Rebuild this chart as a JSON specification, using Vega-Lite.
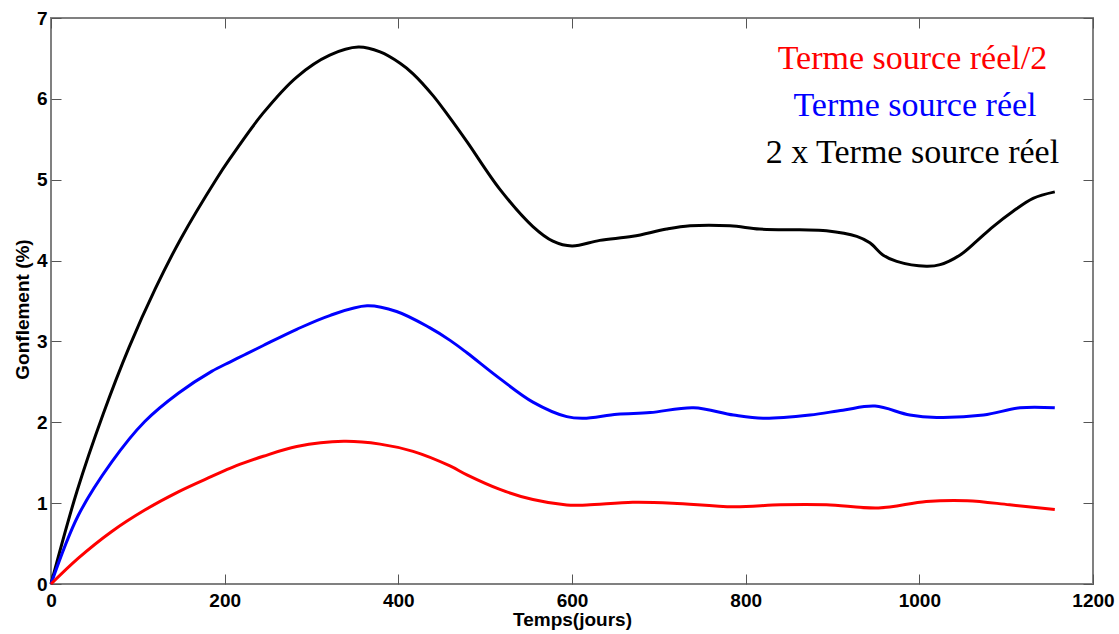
{
  "$schema": "https://vega.github.io/schema/vega-lite/v6.json",
  "width": 1042,
  "height": 566,
  "autosize": {"type": "none"},
  "padding": {"left": 51, "top": 18, "right": 26, "bottom": 50},
  "background": "white",
  "config": {
    "view": {"stroke": "#808080", "strokeWidth": 2},
    "axis": {
      "grid": false,
      "domain": false,
      "tickColor": "#555555",
      "tickWidth": 1,
      "tickSize": -10,
      "labelFont": "Liberation Sans",
      "labelFontWeight": "bold",
      "labelFontSize": 19,
      "labelColor": "black",
      "titleFont": "Liberation Sans",
      "titleFontWeight": "bold",
      "titleFontSize": 19,
      "titleColor": "black"
    }
  },
  "datasets": {
    "curves": [
      {"t": 0, "g": 0, "s": "k"}, {"t": 30, "g": 1.15, "s": "k"}, {"t": 60, "g": 2.1, "s": "k"}, {"t": 90, "g": 2.93, "s": "k"}, {"t": 120, "g": 3.65, "s": "k"}, {"t": 150, "g": 4.28, "s": "k"}, {"t": 190, "g": 5.0, "s": "k"}, {"t": 206, "g": 5.26, "s": "k"}, {"t": 244, "g": 5.82, "s": "k"}, {"t": 283, "g": 6.27, "s": "k"}, {"t": 321, "g": 6.54, "s": "k"}, {"t": 354, "g": 6.64, "s": "k"}, {"t": 379, "g": 6.58, "s": "k"}, {"t": 402, "g": 6.44, "s": "k"}, {"t": 417, "g": 6.31, "s": "k"}, {"t": 440, "g": 6.04, "s": "k"}, {"t": 459, "g": 5.77, "s": "k"}, {"t": 479, "g": 5.47, "s": "k"}, {"t": 517, "g": 4.88, "s": "k"}, {"t": 555, "g": 4.42, "s": "k"}, {"t": 578, "g": 4.24, "s": "k"}, {"t": 600, "g": 4.18, "s": "k"}, {"t": 632, "g": 4.25, "s": "k"}, {"t": 670, "g": 4.3, "s": "k"}, {"t": 709, "g": 4.39, "s": "k"}, {"t": 736, "g": 4.43, "s": "k"}, {"t": 782, "g": 4.43, "s": "k"}, {"t": 816, "g": 4.39, "s": "k"}, {"t": 862, "g": 4.38, "s": "k"}, {"t": 893, "g": 4.37, "s": "k"}, {"t": 928, "g": 4.3, "s": "k"}, {"t": 943, "g": 4.22, "s": "k"}, {"t": 958, "g": 4.07, "s": "k"}, {"t": 974, "g": 3.99, "s": "k"}, {"t": 1008, "g": 3.93, "s": "k"}, {"t": 1024, "g": 3.95, "s": "k"}, {"t": 1047, "g": 4.07, "s": "k"}, {"t": 1066, "g": 4.24, "s": "k"}, {"t": 1085, "g": 4.42, "s": "k"}, {"t": 1108, "g": 4.61, "s": "k"}, {"t": 1131, "g": 4.77, "s": "k"}, {"t": 1156, "g": 4.85, "s": "k"},
      {"t": 0, "g": 0, "s": "b"}, {"t": 31.5, "g": 0.85, "s": "b"}, {"t": 70, "g": 1.51, "s": "b"}, {"t": 108, "g": 2.01, "s": "b"}, {"t": 146.6, "g": 2.36, "s": "b"}, {"t": 185, "g": 2.63, "s": "b"}, {"t": 206, "g": 2.745, "s": "b"}, {"t": 223, "g": 2.835, "s": "b"}, {"t": 244.5, "g": 2.95, "s": "b"}, {"t": 283, "g": 3.15, "s": "b"}, {"t": 321, "g": 3.32, "s": "b"}, {"t": 364, "g": 3.44, "s": "b"}, {"t": 398, "g": 3.37, "s": "b"}, {"t": 436, "g": 3.17, "s": "b"}, {"t": 460, "g": 3.01, "s": "b"}, {"t": 479, "g": 2.86, "s": "b"}, {"t": 517, "g": 2.54, "s": "b"}, {"t": 555, "g": 2.25, "s": "b"}, {"t": 594, "g": 2.07, "s": "b"}, {"t": 613, "g": 2.05, "s": "b"}, {"t": 652, "g": 2.1, "s": "b"}, {"t": 690, "g": 2.12, "s": "b"}, {"t": 740, "g": 2.18, "s": "b"}, {"t": 786, "g": 2.09, "s": "b"}, {"t": 820, "g": 2.05, "s": "b"}, {"t": 874, "g": 2.09, "s": "b"}, {"t": 912, "g": 2.15, "s": "b"}, {"t": 949, "g": 2.2, "s": "b"}, {"t": 989, "g": 2.09, "s": "b"}, {"t": 1020, "g": 2.06, "s": "b"}, {"t": 1074, "g": 2.09, "s": "b"}, {"t": 1116, "g": 2.18, "s": "b"}, {"t": 1156, "g": 2.18, "s": "b"},
      {"t": 0, "g": 0, "s": "r"}, {"t": 31.5, "g": 0.32, "s": "r"}, {"t": 70, "g": 0.65, "s": "r"}, {"t": 108, "g": 0.915, "s": "r"}, {"t": 146.6, "g": 1.14, "s": "r"}, {"t": 185, "g": 1.33, "s": "r"}, {"t": 206, "g": 1.43, "s": "r"}, {"t": 223, "g": 1.5, "s": "r"}, {"t": 244.5, "g": 1.58, "s": "r"}, {"t": 283, "g": 1.7, "s": "r"}, {"t": 337, "g": 1.765, "s": "r"}, {"t": 379, "g": 1.73, "s": "r"}, {"t": 417, "g": 1.64, "s": "r"}, {"t": 459.5, "g": 1.46, "s": "r"}, {"t": 479, "g": 1.35, "s": "r"}, {"t": 517, "g": 1.17, "s": "r"}, {"t": 555, "g": 1.044, "s": "r"}, {"t": 594, "g": 0.977, "s": "r"}, {"t": 617, "g": 0.977, "s": "r"}, {"t": 670, "g": 1.01, "s": "r"}, {"t": 716, "g": 1.0, "s": "r"}, {"t": 786, "g": 0.954, "s": "r"}, {"t": 840, "g": 0.98, "s": "r"}, {"t": 893, "g": 0.98, "s": "r"}, {"t": 953, "g": 0.94, "s": "r"}, {"t": 1008, "g": 1.02, "s": "r"}, {"t": 1055, "g": 1.03, "s": "r"}, {"t": 1104, "g": 0.98, "s": "r"}, {"t": 1156, "g": 0.92, "s": "r"}
    ],
    "labels": [
      {"t": 992, "g": 6.373, "s": "r", "txt": "Terme source réel/2"},
      {"t": 995, "g": 5.788, "s": "b", "txt": "Terme source réel"},
      {"t": 992, "g": 5.211, "s": "k", "txt": "2 x Terme source réel"}
    ]
  },
  "layer": [
    {
      "data": {"name": "curves"},
      "mark": {"type": "line", "strokeWidth": 3, "interpolate": "catmull-rom"},
      "encoding": {
        "x": {"field": "t", "type": "quantitative", "scale": {"domain": [0, 1200], "nice": false},
              "axis": {"orient": "bottom", "values": [0, 200, 400, 600, 800, 1000, 1200], "format": "d", "labelPadding": 17, "title": "Temps(jours)", "titlePadding": 0, "labelFlush": false}},
        "y": {"field": "g", "type": "quantitative", "scale": {"domain": [0, 7], "nice": false},
              "axis": {"orient": "left", "values": [0, 1, 2, 3, 4, 5, 6, 7], "format": "d", "labelPadding": 14, "title": "Gonflement (%)", "titlePadding": 4, "titleY": 291}},
        "color": {"field": "s", "type": "nominal", "scale": {"domain": ["r", "b", "k"], "range": ["#ff0000", "#0000ff", "#000000"]}, "legend": null},
        "detail": {"field": "s"}
      }
    },
    {
      "data": {"name": "labels"},
      "mark": {"type": "text", "font": "Liberation Serif", "fontSize": 34, "align": "center", "baseline": "alphabetic"},
      "encoding": {
        "x": {"field": "t", "type": "quantitative", "axis": {"orient": "top", "values": [0, 200, 400, 600, 800, 1000, 1200], "labels": false, "title": null}},
        "y": {"field": "g", "type": "quantitative", "axis": {"orient": "right", "values": [0, 1, 2, 3, 4, 5, 6, 7], "labels": false, "title": null}},
        "text": {"field": "txt"},
        "color": {"field": "s", "type": "nominal", "legend": null}
      }
    }
  ]
}
